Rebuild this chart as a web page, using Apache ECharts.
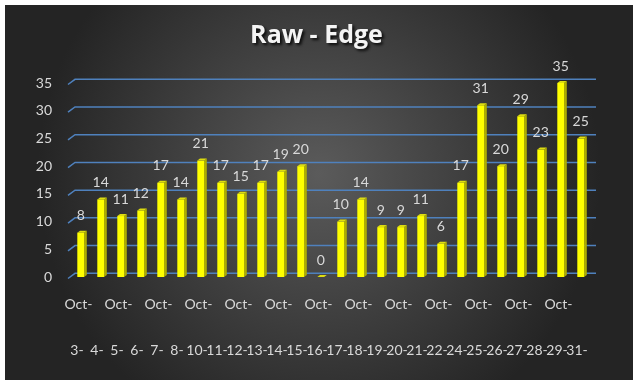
<!DOCTYPE html>
<html>
<head>
<meta charset="utf-8">
<script src="https://cdn.jsdelivr.net/npm/echarts@6/dist/echarts.min.js"></script>
<style>
html,body{margin:0;padding:0;background:#ffffff;}
#chart{width:633px;height:382px;}
</style>
</head>
<body>
<div id="chart"></div>
<script>
const titleText = 'Raw - Edge';
const monthLabel = 'Oct-';
const days = ['3','4','5','6','7','8','10','11','12','13','14','15','16','17','18','19','20','21','22','24','25','26','27','28','29','31'];
const values = [8,14,11,12,17,14,21,17,15,17,19,20,0,10,14,9,9,11,6,17,31,20,29,23,35,25];
const yTicks = [0,5,10,15,20,25,30,35];

const labelColor = '#d9d9d9';
const fontFam = 'Lato, "Noto Sans", sans-serif';

const chart = echarts.init(document.getElementById('chart'), null, {renderer:'canvas'});

const option = {
  backgroundColor: '#ffffff',
  animation: false,
  graphic: [{
    type: 'rect',
    z: -10,
    shape: {x: 5, y: 5, width: 628, height: 375},
    style: {
      fill: {
        type: 'radial', x: 0.5, y: 0.45, r: 0.75,
        colorStops: [{offset: 0, color: '#5b5b5b'}, {offset: 1, color: '#242424'}]
      }
    }
  }],
  title: {
    text: titleText,
    left: 'center',
    top: 18,
    textStyle: {
      color: '#f4f4f4',
      fontFamily: '"Open Sans", Lato, sans-serif',
      fontWeight: 'bold',
      fontSize: 25,
      textShadowColor: 'rgba(0,0,0,0.85)',
      textShadowBlur: 3,
      textShadowOffsetX: 2,
      textShadowOffsetY: 2
    }
  },
  grid: {left: 71, width: 520, top: 83, height: 194, containLabel: false},
  xAxis: [{
    type: 'category',
    data: days,
    position: 'bottom',
    axisLine: {show: false},
    axisTick: {show: false},
    axisLabel: {
      interval: 1,
      margin: 20,
      formatter: function(){ return monthLabel; },
      color: labelColor,
      fontFamily: fontFam,
      fontSize: 14,
      padding: [0,5,0,0]
    }
  }, {
    type: 'category',
    data: days,
    position: 'bottom',
    axisLine: {show: false},
    axisTick: {show: false},
    axisLabel: {
      interval: 0,
      margin: 66,
      formatter: function(d){ return d + '-'; },
      color: labelColor,
      fontFamily: fontFam,
      fontSize: 14,
      padding: [0,8,0,0]
    }
  }],
  yAxis: {
    type: 'value',
    min: 0,
    max: 35,
    interval: 5,
    axisLine: {show: false},
    axisTick: {show: false},
    splitLine: {show: false},
    axisLabel: {
      margin: 19,
      color: labelColor,
      fontFamily: fontFam,
      fontSize: 14,
      padding: [7,0,0,0]
    }
  },
  series: [{
    type: 'custom',
    name: 'grid',
    z: 1,
    silent: true,
    data: yTicks.map(function(v){ return [0, v]; }),
    renderItem: function(params, api){
      const cs = params.coordSys;
      const y = api.coord([0, api.value(1)])[1];
      const yb = y - 3.7;
      return {
        type: 'polyline',
        shape: {points: [[cs.x - 3, y + 1.5], [cs.x + 4, yb], [cs.x + cs.width + 5, yb]]},
        style: {stroke: '#4f81bd', lineWidth: 1.5, fill: null}
      };
    }
  }, {
    type: 'custom',
    name: 'Raw - Edge',
    z: 3,
    data: values.map(function(v, i){ return [i, v]; }),
    renderItem: function(params, api){
      const idx = api.value(0), v = api.value(1);
      const base = api.coord([idx, 0]);
      const top = api.coord([idx, v]);
      const cx = top[0] - 0.3;
      const hw = 3.4, d = 2.7, dy = 2;
      const yt = top[1], yb = base[1];
      return {
        type: 'group',
        children: [{
          type: 'polygon',
          shape: {points: [[cx + hw, yt], [cx + hw + d, yt - dy], [cx + hw + d, yb - dy], [cx + hw, yb]]},
          style: {fill: '#adad00'}
        }, {
          type: 'rect',
          shape: {x: cx - hw, y: yt, width: hw * 2, height: yb - yt},
          style: {fill: '#ffff00'}
        }, {
          type: 'polygon',
          shape: {points: [[cx - hw, yt], [cx - hw + d, yt - dy], [cx + hw + d, yt - dy], [cx + hw, yt]]},
          style: {fill: '#dede10'}
        }, {
          type: 'text',
          style: {
            text: String(v),
            x: cx, y: yt - 17,
            align: 'center', verticalAlign: 'middle',
            fill: labelColor,
            font: '14px ' + fontFam
          }
        }]
      };
    }
  }]
};
chart.setOption(option);
</script>
</body>
</html>
